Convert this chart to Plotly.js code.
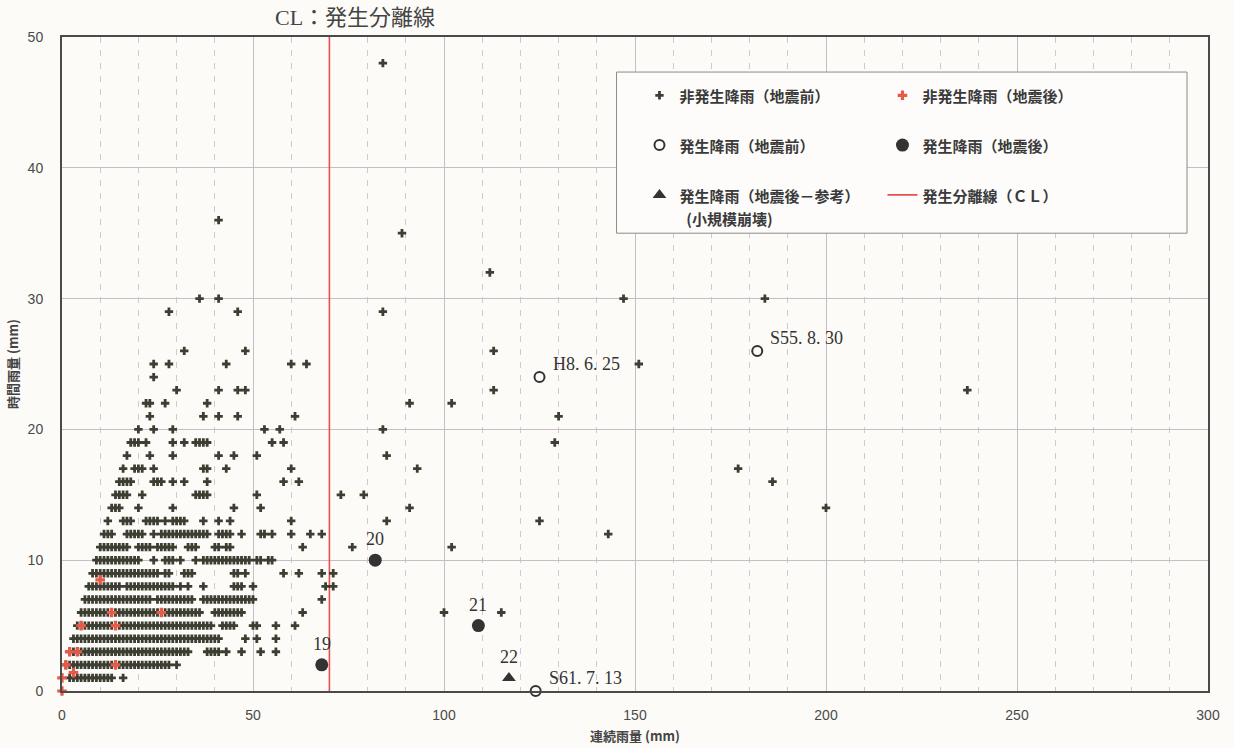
<!DOCTYPE html>
<html>
<head>
<meta charset="utf-8">
<script src="https://cdn.plot.ly/plotly-3.0.1.min.js"></script>
<style>html,body{margin:0;padding:0;background:#fcfbf7;}#chart{width:1234px;height:748px;}</style>
</head>
<body>
<div id="chart"></div>
<script>
// ---- data ----
// 非発生降雨（地震前）: rows of hourly rainfall (y, mm) with the continuous rainfall values (x, mm) in each row
const nonBeforeRowY = [1,2,3,4,5,6,7,8,9,10,11,12,13,14,15,16,17,18,19,20,21,22,23,24,25,26,29,30,32,35,36,48];
const nonBeforeRowX = [
  [2,3,4,5,6,7,8,9,10,11,12,13,16],
  [1,2,3,4,5,6,7,8,9,10,11,12,13,14,15,16,17,18,19,20,21,22,23,24,25,26,27,28,30],
  [2,3,4,5,6,7,8,9,10,11,12,13,14,15,16,17,18,19,20,21,22,23,24,25,26,27,28,29,30,31,32,33,38,39,40,41,43,47,52,56],
  [3,4,5,6,7,8,9,10,11,12,13,14,15,16,17,18,19,20,21,22,23,24,25,26,27,28,29,30,31,32,33,34,35,36,37,38,39,40,41,48,51,56],
  [4,5,6,7,8,9,10,11,12,13,14,15,16,17,18,19,20,21,22,23,24,25,26,27,28,29,30,31,32,33,34,35,36,37,38,39,42,43,44,45,50,51,56,61],
  [5,6,7,8,9,10,11,12,13,14,15,16,17,18,19,20,21,22,23,24,25,26,27,28,29,30,31,32,33,34,35,36,40,41,42,43,44,45,46,47,63,100,115],
  [6,7,8,9,10,11,12,13,14,15,16,17,18,19,20,21,22,23,25,26,27,28,29,30,31,32,33,34,37,38,39,40,41,42,43,44,45,46,47,48,49,50,68],
  [7,8,9,10,11,12,13,14,15,17,18,19,20,21,22,23,24,25,26,27,28,29,31,33,37,45,46,47,50,69,71],
  [8,9,10,11,12,13,14,15,16,17,18,19,20,21,22,23,24,25,27,28,32,33,34,45,46,48,58,62,68,71],
  [9,10,11,12,13,14,15,16,17,18,19,20,24,27,28,29,31,35,37,38,39,40,41,42,43,44,45,46,47,48,49,51,52,54,55],
  [10,11,12,13,14,15,16,17,20,21,22,23,25,26,27,28,29,33,34,35,40,41,43,44,63,76,102],
  [11,12,13,17,18,19,20,21,24,26,27,28,29,30,31,32,33,34,35,36,37,38,41,42,43,44,47,52,53,55,60,65,68,143],
  [12,16,17,18,22,23,24,25,27,29,30,31,32,37,41,44,60,85,125],
  [13,14,15,20,29,45,52,91,200],
  [14,15,16,17,21,35,36,37,38,51,73,79],
  [15,16,17,18,24,25,26,29,32,38,58,62,186],
  [16,19,20,21,24,37,38,43,60,93,177],
  [17,23,29,41,45,51,85],
  [18,19,20,22,29,32,35,36,37,38,55,58,129],
  [20,24,29,53,57,84],
  [23,37,41,46,61,130],
  [22,23,27,38,91,102],
  [30,41,46,48,113,237],
  [24],
  [24,28,43,60,64,151],
  [32,48,113],
  [28,46,84],
  [36,41,147,184],
  [112],
  [89],
  [41],
  [84]
];
// 非発生降雨（地震後）
const nonAfterX = [0, 0, 1, 3, 14, 2, 4, 5, 14, 13, 26, 10];
const nonAfterY = [0, 1, 2, 1.4, 2, 3, 3, 5, 5, 6, 6, 8.5];
// 発生降雨（地震前）
const occBeforeX = [124, 125, 182];
const occBeforeY = [0, 24, 26];
const occBeforeLabels = ['S61. 7. 13', 'H8. 6. 25', 'S55. 8. 30'];
// 発生降雨（地震後）
const occAfterX = [68, 82, 109];
const occAfterY = [2, 10, 5];
const occAfterLabels = ['19', '20', '21'];
// 発生降雨（地震後－参考）（小規模崩壊）
const refX = [117];
const refY = [1];
const refLabels = ['22'];
// 発生分離線 CL
const clValue = 70;
const clY = [0, 50];
const xTicks = [0, 50, 100, 150, 200, 250, 300];
const yTicks = [0, 10, 20, 30, 40, 50];

// ---- build ----
const nbX = [], nbY = [];
nonBeforeRowY.forEach((y, i) => nonBeforeRowX[i].forEach(x => { nbX.push(x); nbY.push(y); }));

const CJK = '"Noto Sans CJK JP", "Noto Sans", sans-serif';
const SERIF = '"Liberation Serif", "DejaVu Serif", serif';
const sp = t => '<span style="font-size:15px">' + t + '</span>';

const traces = [
  {x: [clValue, clValue], y: clY, mode: 'lines', name: sp('発生分離線（ＣＬ）'),
   line: {color: '#e4504f', width: 1.6}, legendgroup: 'b', legendrank: 6, hoverinfo: 'skip'},
  {x: nbX, y: nbY, mode: 'markers', name: sp('非発生降雨（地震前）') + '<br> ',
   marker: {symbol: 'cross', size: 7, color: '#3c3e32'}, legendgroup: 'a', legendrank: 1, cliponaxis: false},
  {x: nonAfterX, y: nonAfterY, mode: 'markers', name: sp('非発生降雨（地震後）') + '<br> ',
   marker: {symbol: 'cross', size: 8, color: '#e85a48'}, legendgroup: 'b', legendrank: 2, cliponaxis: false},
  {x: occBeforeX, y: occBeforeY, mode: 'markers', name: sp('発生降雨（地震前）') + '<br> ',
   marker: {symbol: 'circle-open', size: 10, color: '#333', line: {width: 2, color: '#333'}}, legendgroup: 'a', legendrank: 3, cliponaxis: false},
  {x: occAfterX, y: occAfterY, mode: 'markers', name: sp('発生降雨（地震後）') + '<br> ',
   marker: {symbol: 'circle', size: 13, color: '#333'}, legendgroup: 'b', legendrank: 4, cliponaxis: false},
  {x: refX, y: refY, mode: 'markers', name: sp('発生降雨（地震後－参考）') + '<br>' + sp('\u00a0\u00a0(小規模崩壊)'),
   marker: {symbol: 'triangle-up', size: 12, color: '#333'}, legendgroup: 'a', legendrank: 5, cliponaxis: false}
];

const annotations = [];
function addLabels(xs, ys, labels, opts) {
  xs.forEach((x, i) => annotations.push(Object.assign({
    x: x, y: ys[i], xref: 'x', yref: 'y', text: labels[i], showarrow: false,
    font: {family: SERIF, size: 18, color: '#333'}
  }, opts)));
}
addLabels(occAfterX, occAfterY, occAfterLabels, {xanchor: 'center', yanchor: 'middle', yshift: 21});
addLabels(refX, refY, refLabels, {xanchor: 'center', yanchor: 'middle', yshift: 21});
addLabels(occBeforeX, occBeforeY, occBeforeLabels, {xanchor: 'left', yanchor: 'middle', xshift: 11, yshift: 13});
annotations.push({x: clValue, xref: 'x', y: 1, yref: 'paper', yanchor: 'bottom', yshift: 5, xshift: 26,
  xanchor: 'center', text: 'CL：発生分離線', showarrow: false,
  font: {family: SERIF + ', ' + CJK, size: 22, color: '#444'}});

const gridSolid = '#c9bcc4';
const layout = {
  width: 1234, height: 748,
  margin: {l: 62, r: 26, t: 37, b: 57, autoexpand: false},
  paper_bgcolor: '#fcfbf7', plot_bgcolor: '#fcfbf7',
  showlegend: true,
  legend: {orientation: 'h', x: 0.5039, xanchor: 'left', y: 0.9387, yanchor: 'top',
    bgcolor: 'rgba(0,0,0,0)', borderwidth: 0, valign: 'top', entrywidth: 198,
    traceorder: 'grouped', font: {family: CJK, size: 18, color: '#3a3a3a', weight: 700}},
  xaxis: {range: [0, 300], tickvals: xTicks, ticks: '', showline: true, mirror: true,
    linecolor: '#4a4a4a', linewidth: 2, zeroline: false,
    showgrid: true, gridcolor: gridSolid, gridwidth: 1,
    minor: {dtick: 10, showgrid: true, gridcolor: '#d6c6cf', griddash: '6px,7px', gridwidth: 1},
    ticklabelstandoff: 10,
    tickfont: {family: '"Liberation Sans", Arial, sans-serif', size: 14, color: '#4a4a4a'},
    title: {text: '<b>連続雨量 (mm)</b>', standoff: 10, font: {family: CJK, size: 13, color: '#444'}}},
  yaxis: {range: [0, 50], tickvals: yTicks, ticks: '', showline: true, mirror: true,
    linecolor: '#4a4a4a', linewidth: 2, zeroline: false,
    showgrid: true, gridcolor: gridSolid, gridwidth: 1,
    ticklabelstandoff: 14,
    tickfont: {family: '"Liberation Sans", Arial, sans-serif', size: 14, color: '#4a4a4a'},
    title: {text: '<b>時間雨量 (mm)</b>', standoff: 6, font: {family: CJK, size: 13, color: '#444'}}},
  shapes: [{type: 'rect', xref: 'paper', yref: 'paper', x0: 0.4839, x1: 0.9817, y0: 0.700, y1: 0.9464,
    line: {color: '#8a8a8a', width: 1}, fillcolor: '#fdfcfa', layer: 'above'}],
  annotations: annotations
};

Plotly.newPlot('chart', traces, layout, {displayModeBar: false, staticPlot: true});
</script>
</body>
</html>
